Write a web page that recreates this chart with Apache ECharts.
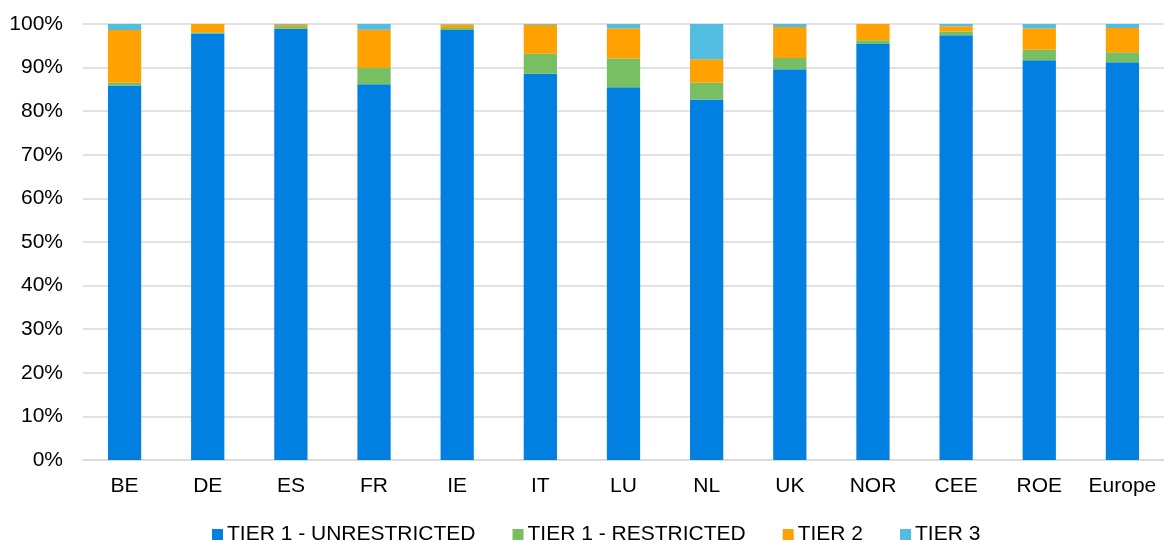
<!DOCTYPE html>
<html>
<head>
<meta charset="utf-8">
<script src="https://cdn.jsdelivr.net/npm/echarts@6/dist/echarts.min.js"></script>
<style>
  html, body { margin: 0; padding: 0; background: #fff; }
  #chart { width: 1164px; height: 542px; }
</style>
</head>
<body>
<div id="chart"></div>
<script>
// Country / region groups on the x axis
const categories = ['BE', 'DE', 'ES', 'FR', 'IE', 'IT', 'LU', 'NL', 'UK', 'NOR', 'CEE', 'ROE', 'Europe'];

// Share of each tier, in percent
const tier1Unrestricted = [85.9, 97.8, 98.9, 86.2, 98.6, 88.6, 85.5, 82.7, 89.6, 95.4, 97.4, 91.7, 91.2];
const tier1Restricted   = [0.6, 0.3, 0.4, 3.7, 0.5, 4.6, 6.6, 3.8, 2.6, 0.9, 0.9, 2.4, 2.3];
const tier2             = [12.1, 1.9, 0.5, 8.8, 0.8, 6.6, 6.9, 5.4, 7.1, 3.7, 1.2, 4.9, 5.6];
const tier3             = [1.4, 0.0, 0.2, 1.3, 0.1, 0.2, 1.0, 8.1, 0.7, 0.0, 0.5, 1.0, 0.9];

const seriesNames = ['TIER 1 - UNRESTRICTED', 'TIER 1 - RESTRICTED', 'TIER 2', 'TIER 3'];
const seriesColors = ['#0180E2', '#77BF62', '#FFA101', '#52BDE1'];
const seriesData = [tier1Unrestricted, tier1Restricted, tier2, tier3];

const font = 'Liberation Sans, Arial, sans-serif';

const chart = echarts.init(document.getElementById('chart'));
chart.setOption({
  animation: false,
  textStyle: { fontFamily: font },
  grid: { left: 83, right: 0, top: 24, bottom: 82, containLabel: false },
  legend: {
    top: 524,
    left: 212,
    padding: 0,
    itemWidth: 11,
    itemHeight: 11,
    itemGap: 37,
    icon: 'rect',
    textStyle: { fontFamily: font, fontSize: 21, color: '#000', padding: [0, 0, 0, -1] },
    data: seriesNames
  },
  xAxis: {
    type: 'category',
    data: categories,
    axisTick: { show: false },
    axisLine: { lineStyle: { color: '#D9D9D9', width: 1.5 } },
    axisLabel: { interval: 0, fontFamily: font, fontSize: 21, color: '#000', margin: 16 }
  },
  yAxis: {
    type: 'value',
    min: 0,
    max: 100,
    interval: 10,
    axisLine: { show: false },
    axisTick: { show: false },
    splitLine: { lineStyle: { color: '#D9D9D9', width: 1.5 } },
    axisLabel: { fontFamily: font, fontSize: 21, color: '#000', margin: 20, formatter: '{value}%' }
  },
  series: seriesNames.map((name, i) => ({
    name: name,
    type: 'bar',
    stack: 'total',
    barWidth: '40%',
    itemStyle: { color: seriesColors[i] },
    data: seriesData[i]
  }))
});
</script>
</body>
</html>
